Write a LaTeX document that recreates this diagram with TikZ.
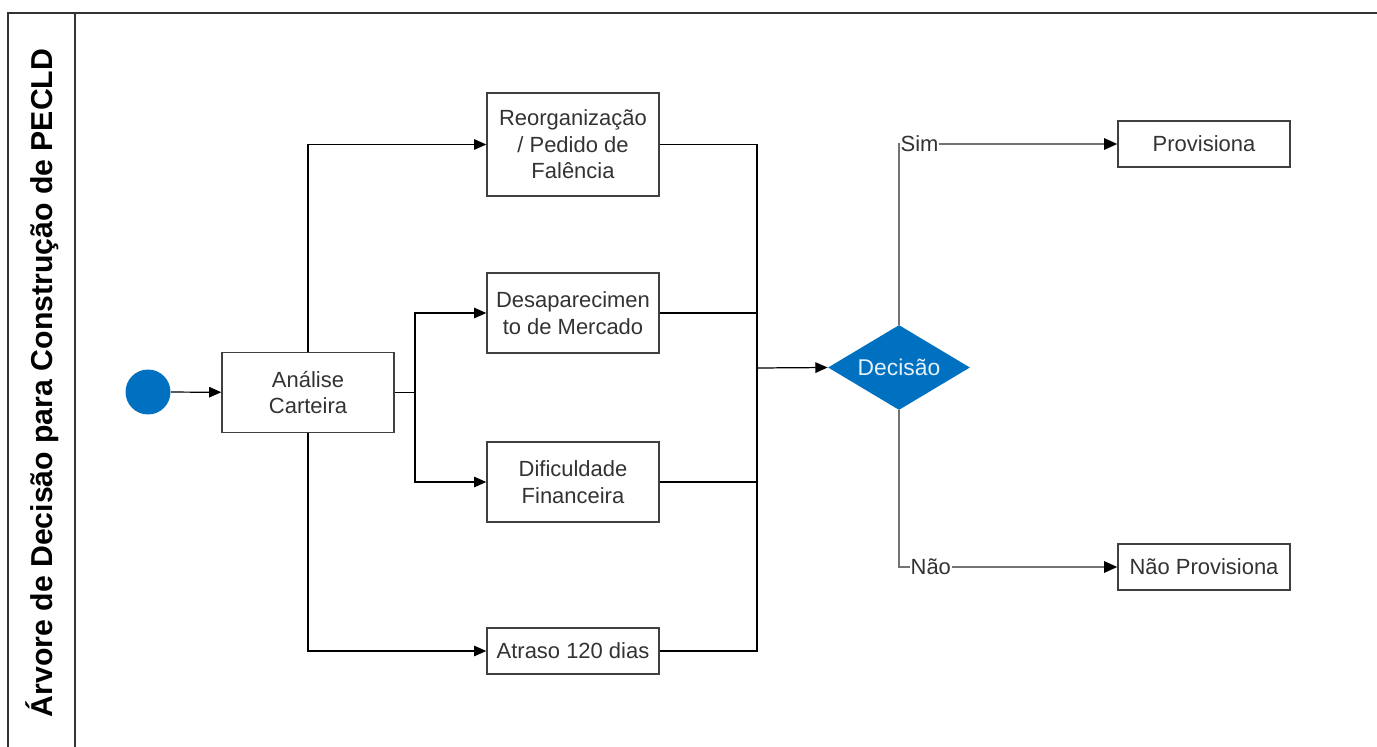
\documentclass[tikz,border=0pt]{standalone}
\usepackage{fontspec}
\setmainfont{Liberation Sans}
\usetikzlibrary{arrows.meta, shapes.geometric, positioning}
\definecolor{flowblue}{RGB}{0,112,192}
\tikzset{
    task/.style={draw=black!75, line width=0.8pt, fill=white, minimum width=3.44cm,
        minimum height=1.6cm, align=center, inner sep=2pt,
        font=\fontsize{12.5}{15}\selectfont, text=black!80},
    shorttask/.style={task, minimum height=0.92cm},
    flow/.style={draw=black, line width=0.7pt, -{Triangle[length=7pt, width=6pt]}},
    branch/.style={draw=black!55, line width=0.9pt, -{Triangle[length=7.5pt, width=6.5pt, color=black]}},
    answer/.style={fill=white, inner sep=0.5pt, font=\fontsize{12.5}{15}\selectfont, text=black!80}
}
\begin{document}
\begin{tikzpicture}[x=0.02cm, y=-0.02cm]
        \useasboundingbox (0,0) rectangle (1377,747);
        % pool
        \draw[line width=1pt, black!80] (8,747) -- (8,13) -- (1377,13);
        \draw[line width=1pt, black!80] (75,13) -- (75,747);
        \node[rotate=90, font=\bfseries\fontsize{17.2}{19}\selectfont] (pool) at (42,383)
            {Árvore de Decisão para Construção de PECLD};

        % Explicit Coordinates
        \coordinate (C0) at (148,392);
        \coordinate (C1) at (308,392.5);
        \coordinate (C2) at (573,144.5);
        \coordinate (C3) at (573,313);
        \coordinate (C4) at (573,482);
        \coordinate (C5) at (573,651);
        \coordinate (C6) at (899,367.5);
        \coordinate (C7) at (1204,144);
        \coordinate (C8) at (1204,567);
        \coordinate (split) at (415,392.5);
        \coordinate (merge) at (757,368);

        \node[circle, fill=flowblue, minimum size=0.9cm, inner sep=0] (start) at (C0) {};
        \node[task] (ana) at (C1) {Análise\\Carteira};
        \node[task, minimum height=2.06cm] (reo) at (C2) {Reorganização\\/ Pedido de\\Falência};
        \node[task] (des) at (C3) {Desaparecimen\\to de Mercado};
        \node[task] (dif) at (C4) {Dificuldade\\Financeira};
        \node[shorttask] (atr) at (C5) {Atraso 120 dias};
        \node[diamond, aspect=1.67, fill=flowblue, minimum width=2.84cm, minimum height=1.7cm, inner sep=0,
            text=white!90!flowblue, font=\fontsize{13}{15}\selectfont] (dec) at (C6) {Decisão};
        \node[shorttask] (pro) at (C7) {Provisiona};
        \node[shorttask] (nop) at (C8) {Não Provisiona};

        \draw[flow] (start) -- (ana);
        \draw[flow] (ana.north) |- (reo.west);
        \draw[flow] (ana.south) |- (atr.west);
        \draw[line width=0.7pt] (ana.east) -- (split);
        \draw[flow] (split) |- (des.west);
        \draw[flow] (split) |- (dif.west);
        \foreach \b in {reo, des, dif, atr}
            \draw[line width=0.7pt] (\b.east) -| (merge);
        \draw[flow] (merge) -- (dec.west);

        \draw[branch] (dec.north) |- node[answer, anchor=west, pos=0.5] {Sim} (pro.west);
        \draw[branch] (dec.south) |- node[answer, anchor=west, pos=0.5, xshift=0.2cm] {Não} (nop.west);
\end{tikzpicture}
\end{document}
